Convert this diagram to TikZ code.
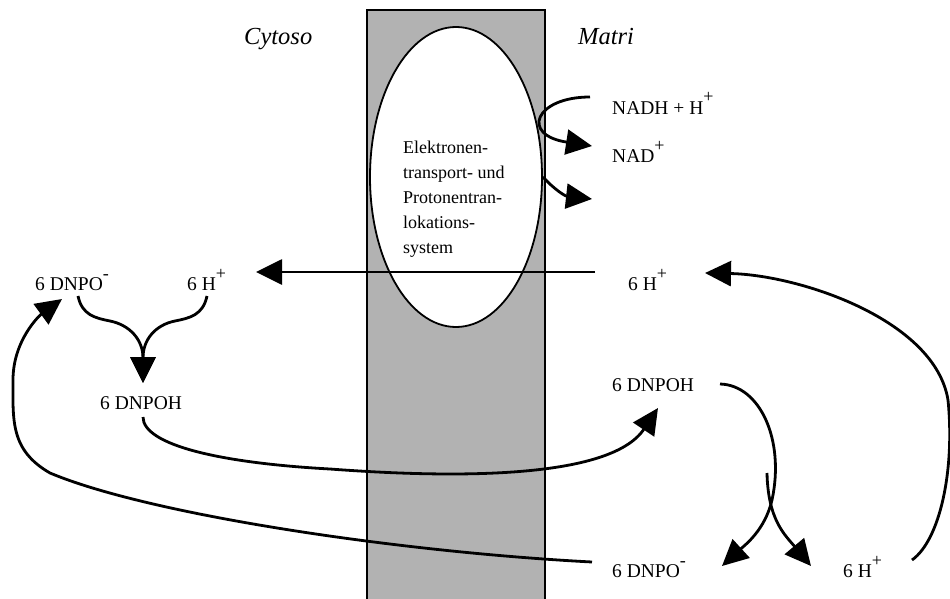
\documentclass[tikz,border=0pt]{standalone}
\usepackage{fontspec}
\setmainfont{Liberation Serif}
\usetikzlibrary{arrows.meta,shapes.geometric}
\newcommand{\ioncharge}[1]{\raisebox{11pt}{\fontsize{18}{18}\selectfont #1}}
\begin{document}
\begin{tikzpicture}[x=1pt, y=-1pt]
    \tikzset{
        membrane/.style={fill=black!30, draw=black, line width=1.8pt},
        carrier/.style={ellipse, draw=black, fill=white, line width=1.8pt,
            minimum width=172pt, minimum height=300pt, inner sep=0pt},
        flow/.style={line width=2.8pt, -{Triangle[length=26pt, width=25pt]}},
        species/.style={anchor=base west, inner sep=0pt, font=\fontsize{19.5}{23}\selectfont},
        side/.style={anchor=base west, inner sep=0pt, font=\fontsize{24.5}{28}\selectfont\itshape},
        boxtext/.style={
            anchor=north west,
            inner sep=0pt,
            align=left,
            font=\fontsize{18}{25}\selectfont
        }
    }
    \useasboundingbox (0,0) rectangle (950,599);

    % membrane with the carrier
    \filldraw[membrane] (367,10) rectangle (545,640);
    \node[carrier] (etl) at (456,177) {};
    \node[boxtext] (etltext) at (403,141)
        {Elektronen-\\transport- und\\Protonentran-\\lokations-\\system};

    \node[side] (cyto) at (244,45) {Cytoso};
    \node[side] (matri) at (578,45) {Matri};

    \node[species] (nadh) at (612,114) {NADH + H\ioncharge{+}};
    \node[species] (nad) at (612,162) {NAD\ioncharge{+}};
    \node[species] (hM) at (628,290) {6 H\ioncharge{+}};
    \node[species] (dnpoC) at (35,290) {6 DNPO\ioncharge{-}};
    \node[species] (hC) at (187,290) {6 H\ioncharge{+}};
    \node[species] (dnpohC) at (100,409) {6 DNPOH};
    \node[species] (dnpohM) at (612,391) {6 DNPOH};
    \node[species] (dnpoM) at (612,577) {6 DNPO\ioncharge{-}};
    \node[species] (hMb) at (843,577) {6 H\ioncharge{+}};

    \coordinate (nadhout) at (590,97);
    \coordinate (nadin) at (592,146);
    \coordinate (etlout) at (592,199);
    \coordinate (hout) at (595,272);
    \coordinate (hin) at (256,272);
    \coordinate (dnpoCout) at (78,296);
    \coordinate (hCout) at (207,296);
    \coordinate (dnpohCin) at (143,383);
    \coordinate (dnpohCout) at (143,417);
    \coordinate (dnpohMin) at (658,408);
    \coordinate (dnpohMout) at (720,384);
    \coordinate (dnpoMin) at (722,566);
    \coordinate (hMbstart) at (767,473);
    \coordinate (hMbin) at (811,566);
    \coordinate (hMbout) at (912,560);
    \coordinate (hMin) at (705,273);
    \coordinate (dnpoMout) at (592,562);
    \coordinate (dnpoCin) at (62,299);

    % redox on the matrix side
    \draw[flow] (nadhout) .. controls (535,97) and (520,135) .. (nadin);
    \draw[flow] (etl.east) .. controls (555,190) and (565,196) .. (etlout);

    % proton pumping
    \draw[flow] (hout) -- (hin);

    % cytosol side
    \draw[flow] (dnpoCout) .. controls (82,315) and (95,318) .. (110,321)
        .. controls (130,325) and (143,340) .. (dnpohCin);
    \draw[flow] (hCout) .. controls (203,315) and (190,318) .. (175,321)
        .. controls (155,325) and (143,340) .. (dnpohCin);
    \draw[flow] (dnpohCout) .. controls (143,445) and (220,463) .. (330,469)
        .. controls (450,478) and (610,480) .. (dnpohMin);

    % matrix side
    \draw[flow] (dnpohMout) .. controls (760,385) and (785,440) .. (772,500)
        .. controls (765,530) and (745,545) .. (dnpoMin);
    \draw[flow] (hMbstart) .. controls (768,520) and (785,535) .. (hMbin);
    \draw[flow] (hMbout) .. controls (940,540) and (955,470) .. (948,400)
        .. controls (935,320) and (800,275) .. (hMin);
    \draw[flow] (dnpoMout) .. controls (400,552) and (150,515) .. (50,473)
        .. controls (10,450) and (13,420) .. (13,380)
        .. controls (13,340) and (40,315) .. (dnpoCin);
\end{tikzpicture}
\end{document}
